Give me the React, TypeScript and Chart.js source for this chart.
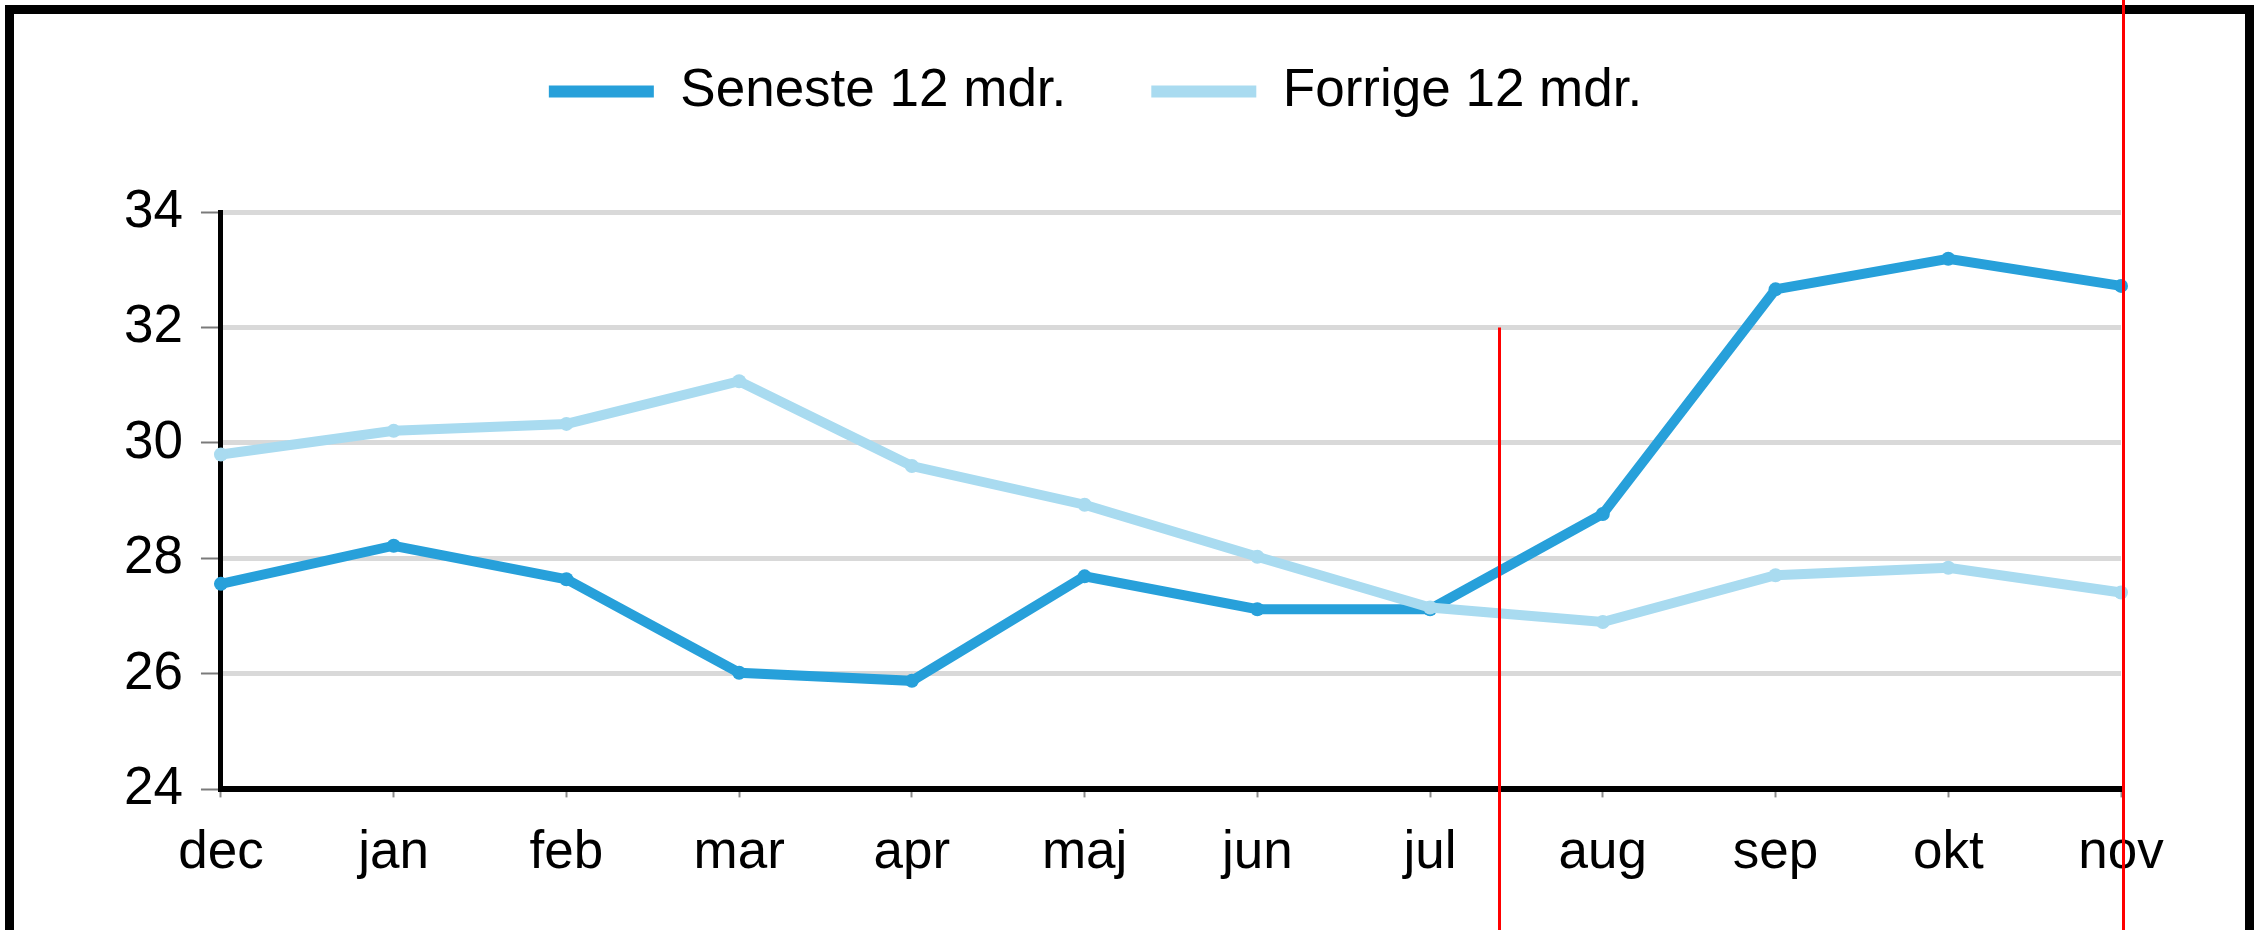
import React, { useEffect, useRef } from 'react';
import { Chart, registerables } from 'chart.js';

Chart.register(...registerables);

// ---- data ----
const months = ['dec', 'jan', 'feb', 'mar', 'apr', 'maj', 'jun', 'jul', 'aug', 'sep', 'okt', 'nov'];
const seneste = [27.56, 28.22, 27.64, 26.02, 25.88, 27.69, 27.12, 27.12, 28.77, 32.66, 33.19, 32.72];
const forrige = [29.8, 30.21, 30.33, 31.07, 29.6, 28.93, 28.03, 27.15, 26.9, 27.71, 27.84, 27.41];
const seriesNames = ['Seneste 12 mdr.', 'Forrige 12 mdr.'];
const yTickValues = [24, 26, 28, 30, 32, 34];

// red marker lines (category index, and the value they start from; null = from top of page)
const markerIndex = [7.4, 11.012];
const markerTopValue: (number | null)[] = [32, null];

const FONT = 'Liberation Sans, Arial, Helvetica, sans-serif';
const DARK = '#27a0da';
const LIGHT = '#a9dbf0';
const LEGEND_DX = -18;
const LEGEND_DY = -84;

const markerPlugin = {
  id: 'redMarkers',
  afterDraw(chart: any) {
    const { ctx } = chart;
    const x = chart.scales.x;
    const y = chart.scales.y;
    ctx.save();
    ctx.strokeStyle = '#ff0000';
    ctx.lineWidth = 3;
    markerIndex.forEach((idx, i) => {
      const px = Math.round(x.getPixelForValue(idx)) + 0.5;
      const tv = markerTopValue[i];
      const top = tv == null ? 0 : y.getPixelForValue(tv);
      ctx.beginPath();
      ctx.moveTo(px, top);
      ctx.lineTo(px, chart.height);
      ctx.stroke();
    });
    ctx.restore();
  },
};

const legendShiftPlugin = {
  id: 'legendShift',
  afterLayout(chart: any) {
    const l = chart.legend;
    if (!l) return;
    l.left += LEGEND_DX;
    l.right += LEGEND_DX;
    l.top += LEGEND_DY;
    l.bottom += LEGEND_DY;
  },
};

export default function App() {
  const ref = useRef<HTMLCanvasElement | null>(null);

  useEffect(() => {
    document.body.style.margin = '0';
    document.body.style.overflow = 'hidden';
    const canvas = ref.current;
    if (!canvas) return;
    const chart = new Chart(canvas, {
      type: 'line',
      data: {
        labels: months,
        datasets: [
          {
            label: seriesNames[0],
            data: seneste,
            borderColor: DARK,
            backgroundColor: DARK,
            pointBackgroundColor: DARK,
            borderWidth: 10,
            pointRadius: 7,
            pointBorderWidth: 0,
            tension: 0,
            order: 1,
          },
          {
            label: seriesNames[1],
            data: forrige,
            borderColor: LIGHT,
            backgroundColor: LIGHT,
            pointBackgroundColor: LIGHT,
            borderWidth: 10,
            pointRadius: 7,
            pointBorderWidth: 0,
            tension: 0,
            order: 0,
          },
        ],
      },
      options: {
        responsive: false,
        animation: false,
        devicePixelRatio: 1,
        layout: { padding: { left: 106, right: 141, top: 64, bottom: 21 } },
        plugins: {
          tooltip: { enabled: false },
          legend: {
            display: true,
            position: 'top',
            align: 'center',
            labels: {
              usePointStyle: true,
              pointStyle: 'line',
              pointStyleWidth: 105,
              padding: 85,
              color: '#000',
              font: { family: FONT, size: 53 },
              sort: (a: any, b: any) => a.datasetIndex - b.datasetIndex,
              generateLabels: (chart: any) =>
                Chart.defaults.plugins.legend.labels
                  .generateLabels(chart)
                  .map((it: any) => ({ ...it, lineWidth: 12, pointStyle: 'line' })),
            },
          },
        },
        scales: {
          x: {
            offset: false,
            grid: {
              display: true,
              drawOnChartArea: false,
              drawTicks: true,
              tickLength: 8,
              tickColor: '#8a8a8a',
              tickWidth: 2,
            },
            border: { display: true, color: '#000', width: 6 },
            ticks: {
              color: '#000',
              font: { family: FONT, size: 53 },
              padding: 24,
              maxRotation: 0,
              autoSkip: false,
            },
          },
          y: {
            min: 24,
            max: 34,
            afterBuildTicks: (scale: any) => {
              scale.ticks = yTickValues.map((v) => ({ value: v }));
            },
            grid: {
              display: true,
              color: '#d9d9d9',
              lineWidth: 5,
              drawTicks: true,
              tickLength: 20,
              tickColor: '#7a7a7a',
              tickWidth: 2,
            },
            border: { display: true, color: '#000', width: 5 },
            ticks: {
              color: '#000',
              font: { family: FONT, size: 53 },
              padding: 18,
            },
          },
        },
      },
      plugins: [markerPlugin, legendShiftPlugin],
    });
    return () => chart.destroy();
  }, []);

  return (
    <div style={{ position: 'relative', width: 2262, height: 930, overflow: 'hidden', background: '#fff' }}>
      <div
        style={{
          position: 'absolute',
          left: 5,
          top: 5,
          width: 2249,
          height: 1100,
          boxSizing: 'border-box',
          border: '9px solid #000',
          background: '#fff',
        }}
      />
      <canvas
        ref={ref}
        width={2262}
        height={930}
        style={{ position: 'absolute', left: 0, top: 0, width: 2262, height: 930 }}
      />
    </div>
  );
}
